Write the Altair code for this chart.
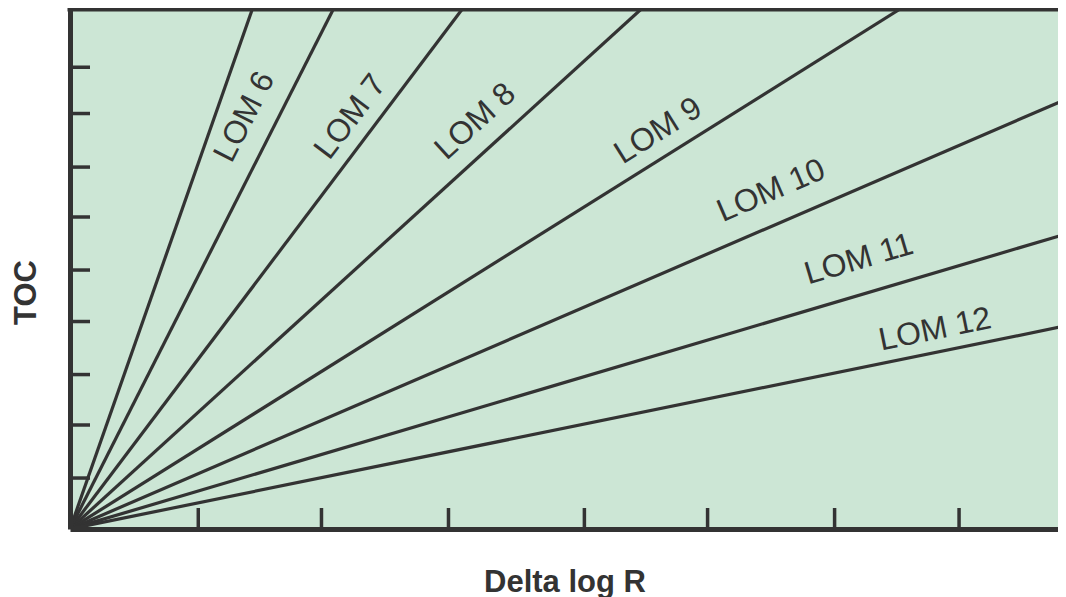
import math
import altair as alt
import pandas as pd

# ---- data ----
# rays from the origin: end points (data units)
ray_names = ["LOM 5", "LOM 6", "LOM 7", "LOM 8", "LOM 9", "LOM 10", "LOM 11", "LOM 12"]
ray_end_x = [1.436, 2.074, 3.089, 4.498, 6.536, 7.84, 7.84, 7.84]
ray_end_y = [10.0, 10.0, 10.0, 10.0, 10.0, 8.263, 5.672, 3.906]

# labels (centre positions, data units)
label_names = ["LOM 6", "LOM 7", "LOM 8", "LOM 9", "LOM 10", "LOM 11", "LOM 12"]
label_x = [1.373, 2.207, 3.19, 4.63, 5.52, 6.21, 6.81]
label_y = [7.93, 7.93, 7.84, 7.66, 6.51, 5.19, 3.84]

# tick positions (data units)
x_ticks = [1.01, 1.98, 2.98, 4.05, 5.02, 6.02, 7.0]
y_ticks = [0.98, 2.0, 2.97, 3.99, 4.98, 6.0, 6.96, 7.99, 8.88]

X_MAX = 7.779
Y_MAX = 10.0

# ---- layout / style ----
W, H = 988, 520
INK = "#333333"
BG = "#cce6d5"
FONT = "Liberation Sans"

rays = pd.DataFrame({
    "name": ray_names,
    "x0": [0.0] * len(ray_names),
    "y0": [0.0] * len(ray_names),
    "x1": ray_end_x,
    "y1": ray_end_y,
})

# label angle follows its ray's on-screen slope
px_x = W / X_MAX
px_y = H / Y_MAX
angles = []
for nm in label_names:
    i = ray_names.index(nm)
    a = math.degrees(math.atan2(ray_end_y[i] * px_y, ray_end_x[i] * px_x))
    angles.append(360 - a)
labels = pd.DataFrame({"name": label_names, "x": label_x, "y": label_y, "angle": angles})

xt = pd.DataFrame({"x0": x_ticks})
yt = pd.DataFrame({"y0": y_ticks})
one = pd.DataFrame({"a": [0]})

xs = alt.Scale(domain=[0, X_MAX], nice=False, zero=False)
ys = alt.Scale(domain=[0, Y_MAX], nice=False, zero=False)

x_axis = alt.Axis(
    domain=True, domainColor=INK, domainWidth=5, ticks=False, labels=False, grid=False,
    title="Delta log R", titleFont=FONT, titleFontSize=31, titleFontWeight="bold",
    titleColor=INK, titleX=494.5, titleY=62, titleAlign="center",
    titleBaseline="alphabetic", zindex=1,
)
y_axis = alt.Axis(
    domain=True, domainColor=INK, domainWidth=5, ticks=False, labels=False, grid=False,
    title="TOC", titleFont=FONT, titleFontSize=31, titleFontWeight="bold",
    titleColor=INK, titleAngle=270, titleX=-35, titleY=283, titleAlign="center",
    titleBaseline="alphabetic", zindex=1,
)

X = lambda f: alt.X(f, scale=xs, axis=x_axis, title="Delta log R")
Y = lambda f: alt.Y(f, scale=ys, axis=y_axis, title="TOC")

ray_layer = alt.Chart(rays).mark_rule(color=INK, strokeWidth=3.2, clip=True).encode(
    x=X("x0:Q"),
    y=Y("y0:Q"),
    x2="x1:Q",
    y2="y1:Q",
)

label_layer = alt.Chart(labels).mark_text(
    font=FONT, fontSize=32, color=INK, align="center", baseline="middle"
).encode(
    x=X("x:Q"),
    y=Y("y:Q"),
    text="name:N",
    angle=alt.Angle("angle:Q", scale=None),
)

xtick_layer = alt.Chart(xt).mark_rule(color=INK, strokeWidth=3.5).encode(
    x=X("x0:Q"),
    y=alt.value(H),
    y2=alt.value(H - 21),
)

ytick_layer = alt.Chart(yt).mark_rule(color=INK, strokeWidth=3.5).encode(
    y=Y("y0:Q"),
    x=alt.value(0),
    x2=alt.value(20),
)

top_border = alt.Chart(one).mark_rule(color=INK, strokeWidth=5).encode(
    y=alt.value(0), x=alt.value(-2.5), x2=alt.value(W)
)

chart = alt.layer(ray_layer, label_layer, xtick_layer, ytick_layer, top_border).properties(
    width=W,
    height=H,
    padding={"left": 62, "top": 1, "right": 0, "bottom": 69},
    autosize=alt.AutoSizeParams(type="none"),
    background="white",
).configure_view(fill=BG, strokeWidth=0)

chart.save("out.html", embed_options={"renderer": "svg", "actions": False})
